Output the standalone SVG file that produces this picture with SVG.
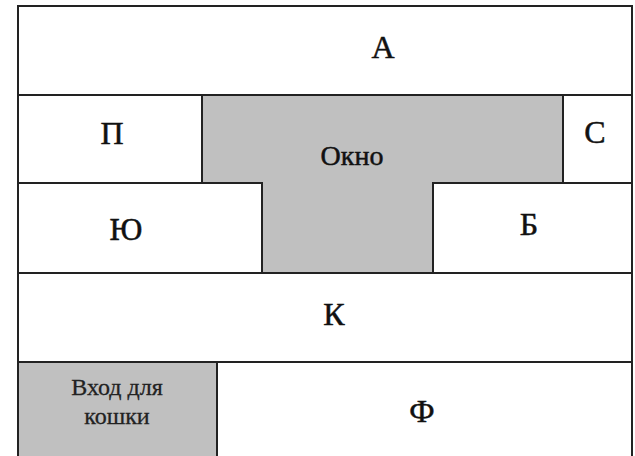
<svg xmlns="http://www.w3.org/2000/svg" width="635" height="456" viewBox="0 0 635 456">
<style>
.w{fill:#ffffff;stroke:#222;stroke-width:2}
.g{fill:#c0c0c0;stroke:#222;stroke-width:2}
text{font-family:'Liberation Serif','Times New Roman','DejaVu Serif',serif;fill:#111;stroke:#111;stroke-width:0.5;text-anchor:middle}
.t{font-size:32px}
.s{font-size:24px;fill:#222;stroke:#222;stroke-width:0.3}
</style>
<rect x="0" y="0" width="635" height="456" fill="#ffffff"/>
<g id="A"><rect class="w" x="18" y="6" width="614" height="89"/><text class="t" x="383" y="58">А</text></g>
<g id="P"><rect class="w" x="18" y="95" width="184" height="88"/><text class="t" x="112" y="144">П</text></g>
<g id="Okno"><polygon class="g" points="202,95 563,95 563,183 433,183 433,273 262,273 262,183 202,183"/><text class="t" x="352" y="165" style="font-size:28px">Окно</text></g>
<g id="S"><rect class="w" x="563" y="95" width="69" height="88"/><text class="t" x="595" y="143">С</text></g>
<g id="Yu"><rect class="w" x="18" y="183" width="244" height="90"/><text class="t" x="126" y="240">Ю</text></g>
<g id="B"><rect class="w" x="433" y="183" width="199" height="90"/><text class="t" x="529" y="235">Б</text></g>
<g id="K"><rect class="w" x="18" y="273" width="614" height="89"/><text class="t" x="334" y="325">К</text></g>
<g id="Cat"><rect class="g" x="18" y="362" width="199" height="100"/><text class="s" x="117" y="395">Вход для</text><text class="s" x="117" y="424">кошки</text></g>
<g id="F"><rect class="w" x="217" y="362" width="415" height="100"/><text class="t" x="422" y="422">Ф</text></g>
<g id="connectors"></g>
</svg>
